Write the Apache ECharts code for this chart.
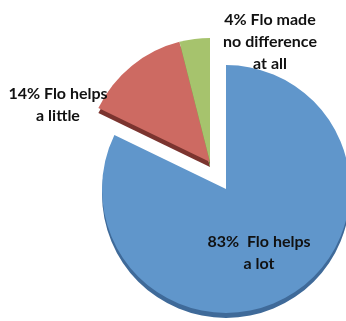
<!DOCTYPE html>
<html><head><meta charset="utf-8">
<script src="https://cdn.jsdelivr.net/npm/echarts@6/dist/echarts.min.js"></script>
<style>html,body{margin:0;padding:0;background:#fff}#c{width:346px;height:321px}</style>
</head><body><div id="c"></div>
<script>
const categories = ['Flo helps a lot', 'Flo helps a little', 'Flo made no difference at all'];
const values = [83, 14, 4];
const labelTexts = ['83%  Flo helps\na lot', '14% Flo helps\na little', '4% Flo made\nno difference\nat all'];
const colors = ['#6096cb', '#cd6a62', '#a6c36d'];
const sideColors = ['#3f6a99', '#7b342f', '#6f8a3e'];

const chart = echarts.init(document.getElementById('c'), null, {renderer: 'canvas'});
const T = 'rgba(0,0,0,0)';
function pieData(show, palette) {
  return categories.map((n, i) => ({
    name: n, value: values[i],
    itemStyle: {color: show.includes(i) ? palette[i] : T}
  }));
}
const base = {type: 'pie', radius: 124, startAngle: 90, clockwise: true, label: {show: false},
  labelLine: {show: false}, silent: true, animation: false};
const font = {fontFamily: 'Lato', fontWeight: 'bold', fontSize: 16, fill: '#111', align: 'center',
  verticalAlign: 'top', lineHeight: 22};
chart.setOption({
  series: [
    Object.assign({}, base, {center: [226, 194], data: pieData([0], sideColors)}),
    Object.assign({}, base, {center: [226, 189], data: pieData([0], colors)}),
    Object.assign({}, base, {center: [210, 167], data: pieData([1, 2], sideColors)}),
    Object.assign({}, base, {center: [210, 162], data: pieData([1, 2], colors)})
  ],
  graphic: [
    {type: 'text', x: 259, y: 231, z: 100, style: Object.assign({text: labelTexts[0]}, font)},
    {type: 'text', x: 58, y: 83, z: 100, style: Object.assign({text: labelTexts[1]}, font)},
    {type: 'text', x: 270, y: 9, z: 100, style: Object.assign({text: labelTexts[2]}, font)}
  ]
});
</script></body></html>
